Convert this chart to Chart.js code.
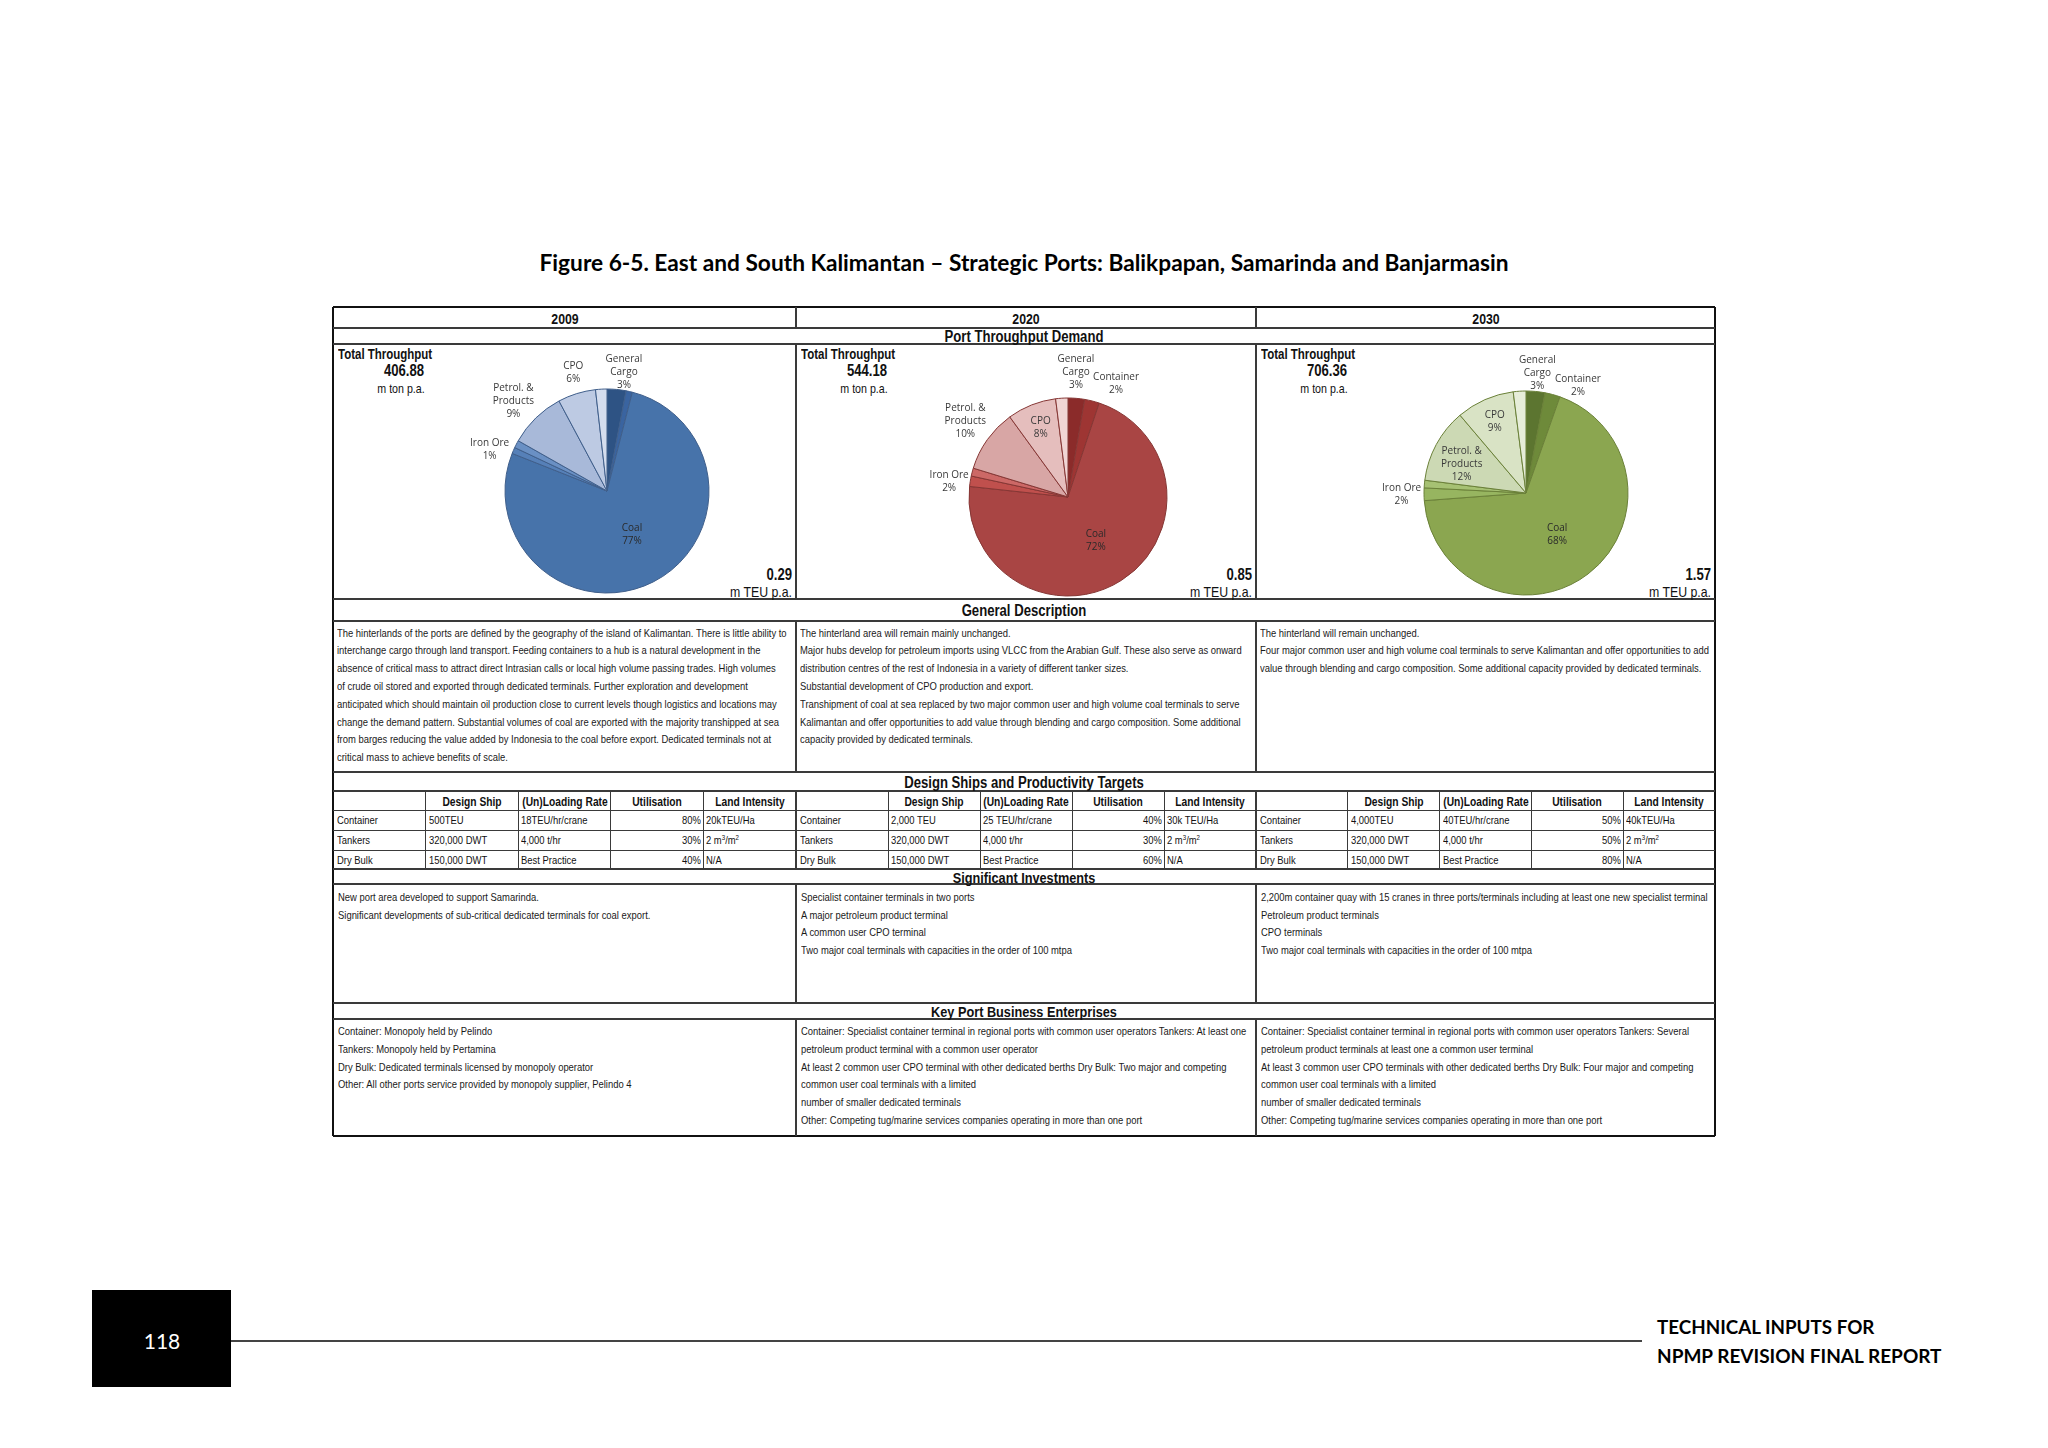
<!DOCTYPE html>
<html>
<head>
<meta charset="utf-8">
<script src="https://cdn.jsdelivr.net/npm/chart.js@4.4.1/dist/chart.umd.min.js"></script>
<style>
  body { margin: 0; background: #fff; }
  #page { position: relative; width: 2048px; height: 1448px; overflow: hidden; background: #fff; }
  .t { position: absolute; white-space: nowrap; font-family: 'Liberation Sans', Arial, sans-serif; color: #111; }
  .ln { position: absolute; }
  canvas { position: absolute; }
  sup { font-size: 65%; line-height: 0; vertical-align: 0.6em; }
</style>
</head>
<body>
<div id="page"></div>
<script>
// ---- data ----
const years = ['2009', '2020', '2030'];
const cargoTypes = ['General Cargo', 'Container', 'Coal', 'Iron Ore', 'Other Bulk', 'Petrol. & Products', 'CPO', 'Other'];
const labelNames = ['General\nCargo', 'Container', 'Coal', 'Iron Ore', null, 'Petrol. &\nProducts', 'CPO', null];
const share2009 = [3.0, 1.0, 77.0, 1.0, 1.2, 9.0, 6.0, 1.8];
const share2020 = [2.7, 2.4, 71.6, 1.7, 1.3, 10.3, 8.0, 2.0];
const share2030 = [3.0, 2.4, 68.4, 2.0, 1.2, 11.8, 9.2, 2.0];
const hideLabel2009 = ['Container'];
const totalThroughput = ['406.88', '544.18', '706.36'];
const teuThroughput = ['0.29', '0.85', '1.57'];

const shipTypes = ['Container', 'Tankers', 'Dry Bulk'];
const shipHeaders = ['', 'Design Ship', '(Un)Loading Rate', 'Utilisation', 'Land Intensity'];
const designShip = [['500TEU', '320,000 DWT', '150,000 DWT'], ['2,000 TEU', '320,000 DWT', '150,000 DWT'], ['4,000TEU', '320,000 DWT', '150,000 DWT']];
const loadingRate = [['18TEU/hr/crane', '4,000 t/hr', 'Best Practice'], ['25 TEU/hr/crane', '4,000 t/hr', 'Best Practice'], ['40TEU/hr/crane', '4,000 t/hr', 'Best Practice']];
const utilisation = [['80%', '30%', '40%'], ['40%', '30%', '60%'], ['50%', '50%', '80%']];
const landIntensity = [['20kTEU/Ha', '2 m<sup>3</sup>/m<sup>2</sup>', 'N/A'], ['30k TEU/Ha', '2 m<sup>3</sup>/m<sup>2</sup>', 'N/A'], ['40kTEU/Ha', '2 m<sup>3</sup>/m<sup>2</sup>', 'N/A']];

const description = [
  ['The hinterlands of the ports are defined by the geography of the island of Kalimantan. There is little ability to',
   'interchange cargo through land transport. Feeding containers to a hub is a natural development in the',
   'absence of critical mass to attract direct Intrasian calls or local high volume passing trades. High volumes',
   'of crude oil stored and exported through dedicated terminals. Further exploration and development',
   'anticipated which should maintain oil production close to current levels though logistics and locations may',
   'change the demand pattern. Substantial volumes of coal are exported with the majority transhipped at sea',
   'from barges reducing the value added by Indonesia to the coal before export. Dedicated terminals not at',
   'critical mass to achieve benefits of scale.'],
  ['The hinterland area will remain mainly unchanged.',
   'Major hubs develop for petroleum imports using VLCC from the Arabian Gulf. These also serve as onward',
   'distribution centres of the rest of Indonesia in a variety of different tanker sizes.',
   'Substantial development of CPO production and export.',
   'Transhipment of coal at sea replaced by two major common user and high volume coal terminals to serve',
   'Kalimantan and offer opportunities to add value through blending and cargo composition. Some additional',
   'capacity provided by dedicated terminals.'],
  ['The hinterland will remain unchanged.',
   'Four major common user and high volume coal terminals to serve Kalimantan and offer opportunities to add',
   'value through blending and cargo composition. Some additional capacity provided by dedicated terminals.']
];
const investments = [
  ['New port area developed to support Samarinda.',
   'Significant developments of sub-critical dedicated terminals for coal export.'],
  ['Specialist container terminals in two ports',
   'A major petroleum product terminal',
   'A common user CPO terminal',
   'Two major coal terminals with capacities in the order of 100 mtpa'],
  ['2,200m container quay with 15 cranes in three ports/terminals including at least one new specialist terminal',
   'Petroleum product terminals',
   'CPO terminals',
   'Two major coal terminals with capacities in the order of 100 mtpa']
];
const enterprises = [
  ['Container: Monopoly held by Pelindo',
   'Tankers: Monopoly held by Pertamina',
   'Dry Bulk: Dedicated terminals licensed by monopoly operator',
   'Other: All other ports service provided by monopoly supplier, Pelindo 4'],
  ['Container: Specialist container terminal in regional ports with common user operators Tankers: At least one',
   'petroleum product terminal with a common user operator',
   'At least 2 common user CPO terminal with other dedicated berths Dry Bulk: Two major and competing',
   'common user coal terminals with a limited',
   'number of smaller dedicated terminals',
   'Other: Competing tug/marine services companies operating in more than one port'],
  ['Container: Specialist container terminal in regional ports with common user operators Tankers: Several',
   'petroleum product terminals at least one a common user terminal',
   'At least 3 common user CPO terminals with other dedicated berths Dry Bulk: Four major and competing',
   'common user coal terminals with a limited',
   'number of smaller dedicated terminals',
   'Other: Competing tug/marine services companies operating in more than one port']
];

// ---- helpers ----
const page = document.getElementById('page');

// narrow look: Arial Narrow is not installed, so squeeze Liberation Sans
function text(str, x, y, o) {
  o = o || {};
  const size = o.size || 11.5;
  const h = Math.round(size * 1.4);
  const sx = o.font ? 1 : (o.sx || 0.82);
  const d = document.createElement('div');
  d.className = 't';
  d.innerHTML = str;
  d.style.fontSize = size + 'px';
  d.style.lineHeight = h + 'px';
  d.style.top = (y - h / 2) + 'px';
  if (o.bold) d.style.fontWeight = 'bold';
  if (o.font) d.style.fontFamily = o.font;
  if (o.color) d.style.color = o.color;
  if (o.align === 'center') {
    d.style.left = (x - 600) + 'px'; d.style.width = '1200px'; d.style.textAlign = 'center';
    d.style.transformOrigin = '50% 50%';
  } else if (o.align === 'right') {
    d.style.left = (x - 1200) + 'px'; d.style.width = '1200px'; d.style.textAlign = 'right';
    d.style.transformOrigin = '100% 50%';
  } else {
    d.style.left = x + 'px';
    d.style.transformOrigin = '0 50%';
  }
  if (sx !== 1) d.style.transform = 'scaleX(' + sx + ')';
  page.appendChild(d);
  return d;
}
function hLine(x1, x2, y, w, c) {
  const d = document.createElement('div');
  d.className = 'ln';
  d.style.left = x1 + 'px'; d.style.width = (x2 - x1) + 'px';
  d.style.top = (y - w / 2) + 'px'; d.style.height = w + 'px';
  d.style.background = c || '#222';
  page.appendChild(d);
}
function vLine(x, y1, y2, w, c) {
  const d = document.createElement('div');
  d.className = 'ln';
  d.style.left = (x - w / 2) + 'px'; d.style.width = w + 'px';
  d.style.top = y1 + 'px'; d.style.height = (y2 - y1) + 'px';
  d.style.background = c || '#222';
  page.appendChild(d);
}

// ---- page title ----
text('Figure 6-5. East and South Kalimantan – Strategic Ports: Balikpapan, Samarinda and Banjarmasin', 1024, 263,
  { size: 22.7, bold: true, align: 'center', font: 'Lato, sans-serif', color: '#000' });

// ---- table frame ----
const L = 333, R = 1715, T = 307, B = 1136;
const colX = [333, 796, 1256, 1715];
const dark = '#3a3a3a';
hLine(L, R, T, 2, '#111'); hLine(L, R, B, 2, '#111');
vLine(L, T, B, 2, '#111'); vLine(R, T, B, 2, '#111');
[328, 344, 599, 621, 772, 791, 869, 884, 1003, 1019].forEach(y => hLine(L, R, y, 1.5, dark));
[[T, 328], [344, 599], [621, 772], [791, 869], [884, 1003], [1019, B]].forEach(s => {
  vLine(colX[1], s[0], s[1], 1.5, dark); vLine(colX[2], s[0], s[1], 1.5, dark);
});

// section headers
years.forEach((yr, i) => text(yr, (colX[i] + colX[i + 1]) / 2, 318, { size: 15, bold: true, align: 'center' }));
text('Port Throughput Demand', 1024, 336.5, { size: 16, bold: true, align: 'center' });
text('General Description', 1024, 611, { size: 16, bold: true, align: 'center' });
text('Design Ships and Productivity Targets', 1024, 782.5, { size: 16, bold: true, align: 'center' });
text('Significant Investments', 1024, 877.5, { size: 15.5, bold: true, align: 'center' });
text('Key Port Business Enterprises', 1024, 1012, { size: 15.5, bold: true, align: 'center' });

// throughput headline texts
years.forEach((yr, i) => {
  const x0 = colX[i];
  text('Total Throughput', x0 + 5, 354, { size: 14, bold: true });
  text(totalThroughput[i], x0 + 71, 371, { size: 16, bold: true, align: 'center' });
  text('m ton p.a.', x0 + 68, 389, { size: 13, align: 'center' });
  text(teuThroughput[i], colX[i + 1] - 4, 575, { size: 16, bold: true, align: 'right' });
  text('m TEU p.a.', colX[i + 1] - 4, 591, { size: 15, align: 'right' });
});

// general description
description.forEach((lines, i) => lines.forEach((s, j) =>
  text(s, colX[i] + 4, 632.5 + j * 17.8, { color: '#1a1a1a' })));

// design ships table
const rowY = [791, 810, 830, 850, 869];
for (let g = 0; g < 3; g++) {
  const w = (colX[g + 1] - colX[g]) / 5;
  for (let c = 1; c < 5; c++) vLine(colX[g] + c * w, 791, 869, 1, dark);
  shipHeaders.forEach((h, c) => text(h, colX[g] + c * w + w / 2, 801.5, { size: 12.5, bold: true, align: 'center' }));
  shipTypes.forEach((s, r) => {
    const cy = (rowY[r + 1] + rowY[r + 2]) / 2;
    text(s, colX[g] + 4, cy);
    text(designShip[g][r], colX[g] + w + 3, cy);
    text(loadingRate[g][r], colX[g] + 2 * w + 3, cy);
    text(utilisation[g][r], colX[g] + 4 * w - 2, cy, { align: 'right' });
    text(landIntensity[g][r], colX[g] + 4 * w + 3, cy);
  });
}
[810, 830, 850].forEach(y => hLine(L, R, y, 1, dark));

// investments and enterprises
investments.forEach((lines, i) => lines.forEach((s, j) =>
  text(s, colX[i] + 5, 897 + j * 17.6, { color: '#1a1a1a' })));
enterprises.forEach((lines, i) => lines.forEach((s, j) =>
  text(s, colX[i] + 5, 1031 + j * 17.8, { color: '#1a1a1a' })));

// ---- pies ----
const shares = [share2009, share2020, share2030];
const pieCenter = [[607, 491], [1068, 497], [1526, 493]];
const pieRadius = [102, 99, 102];
const sliceColors = [
  ['#2E5384', '#3A64A0', '#4773AA', '#5680B8', '#6A90C4', '#A8B9D9', '#BDCAE3', '#D4DDEE'],
  ['#8B2B2A', '#9E3533', '#A94544', '#C0504D', '#CC6866', '#D8A6A5', '#E5BEBD', '#F0D5D4'],
  ['#5C7530', '#6E8A3A', '#8BA650', '#97B560', '#A6C173', '#CCD9B4', '#D9E3C5', '#E6EDD9']
];
const sliceBorder = ['#3F5E8A', '#853634', '#6A8038'];
// label placement: [distance as fraction of radius, angle nudge in degrees]
const labelPlace = [
  [[1.18, 2.7], null, [0.49, -3], [1.22, -4], null, [1.27, -2], [1.21, 1.4], null],
  [[1.26, -1.2], [1.24, 9], [0.52, 0], [1.21, -2], null, [1.29, 1], [0.75, 0], null],
  [[1.18, 0], [1.17, 10.7], [0.51, 0.6], [1.22, 0], null, [0.69, -4.5], [0.76, 0], null]
];

const sliceLabels = {
  id: 'sliceLabels',
  afterDatasetsDraw(chart, args, opts) {
    const ctx = chart.ctx;
    const data = chart.data.datasets[0].data;
    const total = data.reduce((a, b) => a + b, 0);
    chart.getDatasetMeta(0).data.forEach((arc, k) => {
      const place = opts.place[k];
      const name = labelNames[k];
      if (!place || !name || opts.hide.includes(cargoTypes[k])) return;
      const mid = (arc.startAngle + arc.endAngle) / 2 + place[1] * Math.PI / 180;
      const x = arc.x + Math.cos(mid) * arc.outerRadius * place[0];
      const y = arc.y + Math.sin(mid) * arc.outerRadius * place[0];
      const lines = name.split('\n').concat(Math.round(data[k] / total * 100) + '%');
      ctx.save();
      ctx.font = '10px "Open Sans"';
      ctx.fillStyle = k === 2 ? '#2a2a2a' : '#3a3a3a';
      ctx.textAlign = 'center';
      ctx.textBaseline = 'middle';
      const lh = 13;
      lines.forEach((s, j) => ctx.fillText(s, x, y + (j - (lines.length - 1) / 2) * lh));
      ctx.restore();
    });
  }
};

years.forEach((yr, i) => {
  const W = 340, H = 300;
  const cv = document.createElement('canvas');
  cv.width = W; cv.height = H;
  cv.style.width = W + 'px'; cv.style.height = H + 'px';
  cv.style.left = (pieCenter[i][0] - W / 2) + 'px';
  cv.style.top = (pieCenter[i][1] - H / 2) + 'px';
  page.appendChild(cv);
  new Chart(cv.getContext('2d'), {
    type: 'pie',
    data: {
      labels: cargoTypes,
      datasets: [{
        data: shares[i],
        backgroundColor: sliceColors[i],
        borderColor: sliceBorder[i],
        borderWidth: 1
      }]
    },
    options: {
      responsive: false,
      animation: false,
      radius: pieRadius[i],
      layout: { padding: 0 },
      plugins: {
        legend: { display: false },
        tooltip: { enabled: false },
        sliceLabels: { place: labelPlace[i], hide: i === 0 ? hideLabel2009 : [] }
      }
    },
    plugins: [sliceLabels]
  });
});

// ---- footer ----
const box = document.createElement('div');
box.style.cssText = 'position:absolute;left:92px;top:1290px;width:139px;height:97px;background:#000;';
page.appendChild(box);
text('118', 162, 1340, { size: 21, align: 'center', font: 'Lato, sans-serif', color: '#fff' });
hLine(231, 1642, 1341, 2, '#444');
text('TECHNICAL INPUTS FOR', 1657, 1327, { size: 18.8, bold: true, font: 'Lato, sans-serif', color: '#000' });
text('NPMP REVISION FINAL REPORT', 1657, 1355, { size: 19, bold: true, font: 'Lato, sans-serif', color: '#000' });
</script>
</body>
</html>
